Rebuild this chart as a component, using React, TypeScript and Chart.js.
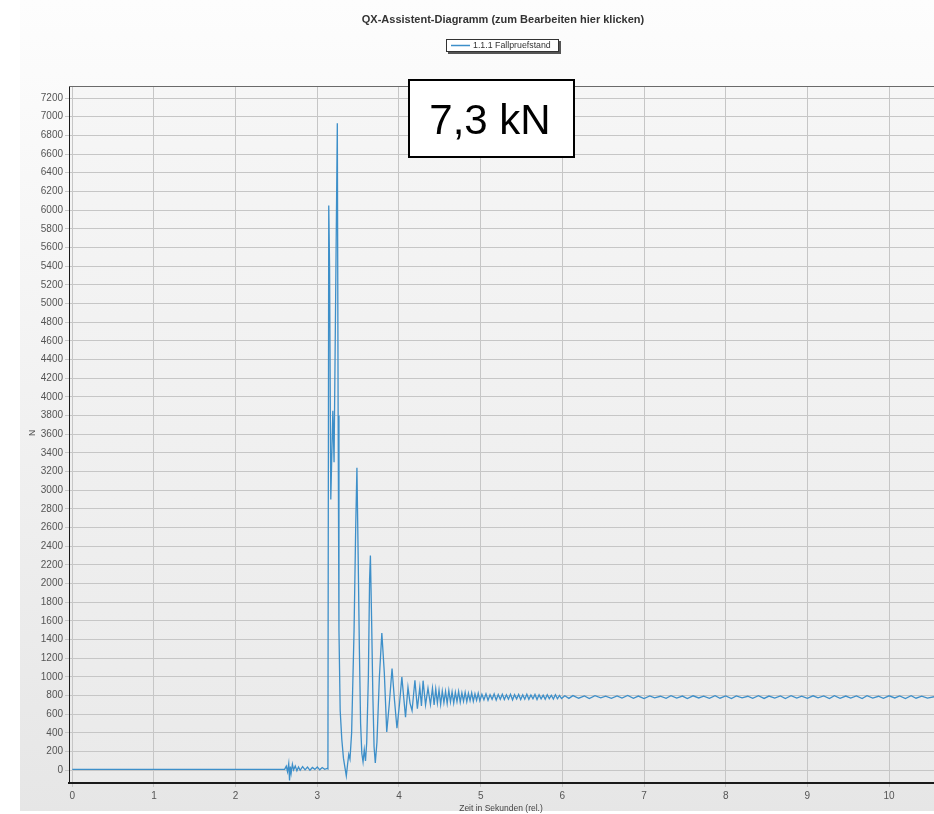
import { useEffect, useRef } from "react";
import { Chart, registerables } from "chart.js";

Chart.register(...registerables);

const CHART_TITLE = "QX-Assistent-Diagramm (zum Bearbeiten hier klicken)";
const SERIES_LABEL = "1.1.1 Fallpruefstand";
const ANNOTATION_TEXT = "7,3 kN";
const X_TITLE = "Zeit in Sekunden (rel.)";
const Y_TITLE = "N";

const xTickValues = [0, 1, 2, 3, 4, 5, 6, 7, 8, 9, 10];
const yTickValues = [
  0, 200, 400, 600, 800, 1000, 1200, 1400, 1600, 1800, 2000, 2200, 2400, 2600, 2800, 3000, 3200,
  3400, 3600, 3800, 4000, 4200, 4400, 4600, 4800, 5000, 5200, 5400, 5600, 5800, 6000, 6200, 6400,
  6600, 6800, 7000, 7200,
];

// Before impact (s, N)
const preTimes = [
  0, 2.6, 2.62, 2.635, 2.65, 2.66, 2.67, 2.68, 2.695, 2.71, 2.73, 2.75, 2.77, 2.79, 2.82, 2.85, 2.88,
  2.91, 2.94, 2.97, 3.0, 3.03, 3.06, 3.09, 3.12, 3.13,
];
const preForces = [
  10, 10, 45, -15, 70, -110, 40, -30, 65, 5, 45, -5, 35, 0, 40, 5, 35, 0, 30, 10, 35, 5, 30, 10, 20, 15,
];

// Impact and rebounds
const impactTimes = [
  3.14, 3.15, 3.165, 3.19, 3.205, 3.245, 3.255, 3.265, 3.28, 3.3,
  3.32, 3.34, 3.355, 3.37, 3.385, 3.4, 3.42, 3.45, 3.47, 3.485,
  3.5, 3.515, 3.53, 3.545, 3.56, 3.575, 3.59, 3.605, 3.625, 3.64,
  3.65, 3.665, 3.68, 3.695, 3.71, 3.73, 3.76, 3.79, 3.82, 3.85,
  3.88, 3.915, 3.945, 3.975, 4.005, 4.035, 4.06, 4.08, 4.11, 4.135,
  4.16, 4.195, 4.225, 4.255, 4.275, 4.295, 4.325, 4.355, 4.385,
];
const impactForces = [
  6050, 5400, 2900, 3850, 3300, 6930, 3800, 1500, 640, 330,
  130, 20, -60, 60, 170, 120, 400, 1500, 2600, 3240,
  2300, 1300, 500, 180, 90, 220, 100, 300, 1000, 2040,
  2300, 1600, 800, 250, 80, 300, 1000, 1470, 1050, 410,
  700, 1090, 750, 450, 700, 1000, 760, 570, 890, 720,
  640, 965, 660, 890, 690, 960, 700, 880, 705,
];

// Settling oscillation
const settleTimes = [
  4.41, 4.43, 4.45, 4.47, 4.49, 4.51, 4.53, 4.55, 4.57, 4.59,
  4.61, 4.63, 4.65, 4.67, 4.69, 4.71, 4.73, 4.75, 4.77, 4.79,
  4.81, 4.83, 4.85, 4.87, 4.89, 4.91, 4.93, 4.95, 4.97, 4.99,
  5.015, 5.04, 5.065, 5.09, 5.115, 5.14, 5.165, 5.19, 5.215, 5.24,
  5.265, 5.29, 5.315, 5.34, 5.365, 5.39, 5.415, 5.44, 5.465, 5.49,
  5.515, 5.54, 5.565, 5.59, 5.615, 5.64, 5.665, 5.69, 5.715, 5.74,
  5.765, 5.79, 5.815, 5.84, 5.865, 5.89, 5.915, 5.94, 5.965, 5.99,
];
const settleForces = [
  880, 700, 870, 720, 860, 705, 850, 725, 845, 715,
  855, 730, 840, 720, 835, 735, 845, 730, 830, 740,
  835, 735, 825, 745, 830, 740, 820, 750, 825, 745,
  815, 755, 820, 750, 810, 760, 818, 752, 812, 760,
  815, 758, 808, 762, 815, 755, 810, 765, 812, 758,
  808, 762, 815, 760, 806, 765, 812, 758, 808, 766,
  805, 762, 810, 768, 804, 764, 809, 766, 802, 768,
];

// Static load
const steadyTimes = [
  6.03, 6.08, 6.13, 6.2, 6.27, 6.33, 6.4, 6.47, 6.53, 6.6, 6.67, 6.73, 6.8, 6.87, 6.93,
  7.0, 7.07, 7.13, 7.2, 7.27, 7.33, 7.4, 7.47, 7.53, 7.6, 7.67, 7.73, 7.8, 7.87, 7.93,
  8.0, 8.07, 8.13, 8.2, 8.27, 8.33, 8.4, 8.47, 8.53, 8.6, 8.67, 8.73, 8.8, 8.87, 8.93,
  9.0, 9.07, 9.13, 9.2, 9.27, 9.33, 9.4, 9.47, 9.53, 9.6, 9.67, 9.73, 9.8, 9.87, 9.93,
  10.0, 10.07, 10.13, 10.2, 10.27, 10.33, 10.4, 10.47, 10.55,
];
const steadyForces = [
  798, 770, 800, 772, 796, 768, 799, 776, 794, 770,
  797, 773, 801, 771, 795, 768, 797, 777, 793, 770,
  799, 773, 795, 769, 798, 775, 794, 771, 800, 772,
  796, 768, 797, 776, 793, 771, 799, 770, 795, 774,
  797, 769, 800, 773, 794, 770, 798, 776, 796, 768,
  799, 771, 795, 773, 797, 769, 800, 774, 793, 771,
  798, 775, 796, 769, 799, 772, 795, 773, 788,
];

const LINE_COLOR = "#3d8fc9";
const FONT = "'Liberation Sans', Arial, sans-serif";

function toPoints(times: number[], forces: number[]) {
  return times.map((t, i) => ({ x: t, y: forces[i] }));
}

const decorPlugin = {
  id: "decor",
  beforeDraw(chart: any) {
    const { ctx, width, height, chartArea } = chart;
    ctx.save();
    ctx.fillStyle = "#ffffff";
    ctx.fillRect(0, 0, width, height);
    const g = ctx.createLinearGradient(0, 0, 0, height);
    g.addColorStop(0, "#fdfdfd");
    g.addColorStop(1, "#e6e6e6");
    ctx.fillStyle = g;
    ctx.fillRect(20, 0, width - 20, height - 3);
    const pg = ctx.createLinearGradient(0, chartArea.top, 0, chartArea.bottom);
    pg.addColorStop(0, "#f6f6f6");
    pg.addColorStop(1, "#eaeaea");
    ctx.fillStyle = pg;
    ctx.fillRect(chartArea.left, chartArea.top, chartArea.right - chartArea.left, chartArea.bottom - chartArea.top);
    ctx.restore();
  },
  afterDraw(chart: any) {
    const { ctx, chartArea } = chart;
    ctx.save();
    // top border of plot area
    ctx.strokeStyle = "#6a6a6a";
    ctx.lineWidth = 1;
    ctx.beginPath();
    ctx.moveTo(chartArea.left, chartArea.top + 0.5);
    ctx.lineTo(chartArea.right, chartArea.top + 0.5);
    ctx.stroke();

    // title
    ctx.fillStyle = "#333";
    ctx.font = `bold 11px ${FONT}`;
    ctx.textAlign = "center";
    ctx.textBaseline = "middle";
    ctx.fillText(CHART_TITLE, 503, 20);

    // legend
    ctx.fillStyle = "#555";
    ctx.fillRect(448, 41, 113, 13);
    ctx.fillStyle = "#ffffff";
    ctx.fillRect(446, 39, 113, 13);
    ctx.strokeStyle = "#333";
    ctx.strokeRect(446.5, 39.5, 112, 12);
    ctx.strokeStyle = LINE_COLOR;
    ctx.lineWidth = 1.5;
    ctx.beginPath();
    ctx.moveTo(451, 45.5);
    ctx.lineTo(470, 45.5);
    ctx.stroke();
    ctx.fillStyle = "#333";
    ctx.font = `8.8px ${FONT}`;
    ctx.textAlign = "left";
    ctx.fillText(SERIES_LABEL, 473, 46);

    // annotation box
    ctx.fillStyle = "#ffffff";
    ctx.fillRect(409, 80, 165, 77);
    ctx.strokeStyle = "#000";
    ctx.lineWidth = 2;
    ctx.strokeRect(409, 80, 165, 77);
    ctx.fillStyle = "#000";
    ctx.font = `42px ${FONT}`;
    ctx.textAlign = "center";
    ctx.textBaseline = "alphabetic";
    ctx.fillText(ANNOTATION_TEXT, 490, 134);

    // axis titles
    ctx.fillStyle = "#444";
    ctx.font = `8.5px ${FONT}`;
    ctx.textBaseline = "middle";
    ctx.fillText(X_TITLE, 501, 809);
    ctx.translate(33, 433);
    ctx.rotate(-Math.PI / 2);
    ctx.fillText(Y_TITLE, 0, 0);
    ctx.restore();
  },
};

export default function App() {
  const ref = useRef<HTMLCanvasElement | null>(null);

  useEffect(() => {
    if (!ref.current) return;
    const data = [
      ...toPoints(preTimes, preForces),
      ...toPoints(impactTimes, impactForces),
      ...toPoints(settleTimes, settleForces),
      ...toPoints(steadyTimes, steadyForces),
    ];
    const chart = new Chart(ref.current, {
      type: "line",
      data: {
        datasets: [
          {
            label: SERIES_LABEL,
            data,
            borderColor: LINE_COLOR,
            backgroundColor: LINE_COLOR,
            borderWidth: 1.3,
            pointRadius: 0,
            tension: 0,
            fill: false,
          },
        ],
      },
      options: {
        animation: false,
        responsive: false,
        maintainAspectRatio: false,
        layout: { padding: { left: 20, top: 86, right: 0, bottom: 0 } },
        plugins: {
          legend: { display: false },
          title: { display: false },
          tooltip: { enabled: false },
        },
        scales: {
          x: {
            type: "linear",
            min: -0.04,
            max: 10.55,
            afterBuildTicks: (s: any) => {
              s.ticks = xTickValues.map((v) => ({ value: v }));
            },
            afterFit: (s: any) => {
              s.height = 31;
            },
            grid: { color: "#c6c6c6", lineWidth: 1, tickLength: 4 },
            border: { display: true, color: "#1a1a1a", width: 2 },
            ticks: {
              color: "#555",
              font: { size: 10, family: FONT },
              padding: 3,
              maxRotation: 0,
              autoSkip: false,
              callback: (v: any) => String(v),
            },
          },
          y: {
            type: "linear",
            min: -136,
            max: 7329,
            afterBuildTicks: (s: any) => {
              s.ticks = yTickValues.map((v) => ({ value: v }));
            },
            afterFit: (s: any) => {
              s.width = 49;
            },
            grid: { color: "#c6c6c6", lineWidth: 1, tickLength: 4 },
            border: { display: true, color: "#1a1a1a", width: 1 },
            ticks: {
              color: "#555",
              font: { size: 10, family: FONT },
              padding: 2,
              autoSkip: false,
              callback: (v: any) => String(v),
            },
          },
        },
      },
      plugins: [decorPlugin],
    });
    return () => chart.destroy();
  }, []);

  return (
    <div style={{ position: "absolute", left: 0, top: 0, width: 934, height: 814 }}>
      <canvas ref={ref} width={934} height={814} style={{ width: 934, height: 814, display: "block" }} />
    </div>
  );
}
